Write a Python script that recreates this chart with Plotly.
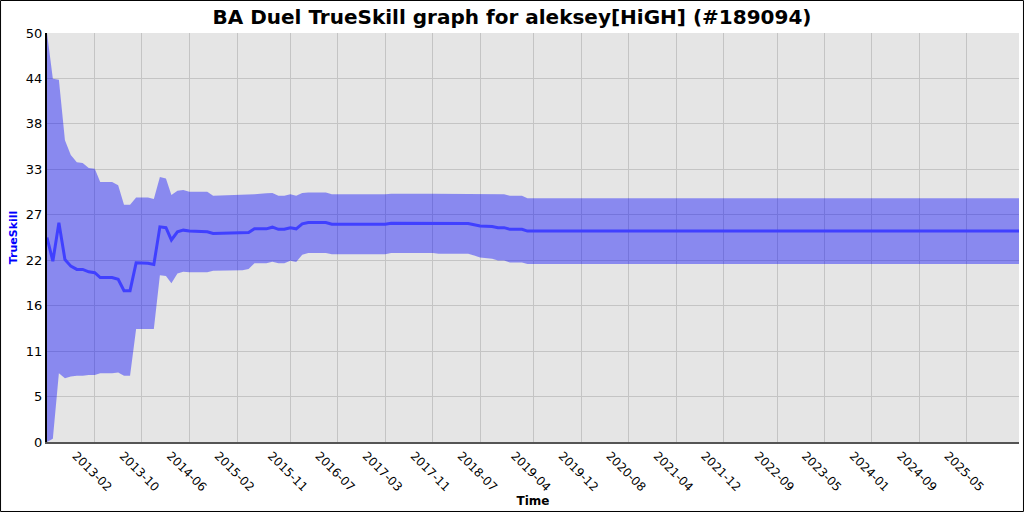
import plotly.graph_objects as go

# ---- data ----
dates = [
    "2012-06-01", "2012-07-01", "2012-08-01", "2012-09-01", "2012-10-01", "2012-11-01",
    "2012-12-01", "2013-01-01", "2013-02-01", "2013-03-01", "2013-05-01", "2013-06-01",
    "2013-07-01", "2013-08-01", "2013-09-01", "2013-11-01", "2013-12-01", "2014-01-01",
    "2014-02-01", "2014-03-01", "2014-04-01", "2014-05-01", "2014-06-01", "2014-09-01",
    "2014-10-01", "2015-03-01", "2015-04-01", "2015-05-01", "2015-07-01", "2015-08-01",
    "2015-09-01", "2015-10-01", "2015-11-01", "2015-12-01", "2016-01-01", "2016-02-01",
    "2016-05-01", "2016-06-01", "2017-03-01", "2017-04-01", "2017-11-01", "2017-12-01",
    "2018-05-01", "2018-06-01", "2018-07-01", "2018-09-01", "2018-10-01", "2018-11-01",
    "2018-12-01", "2019-02-01", "2019-03-01", "2026-01-24",
]
mean_skill = [
    25.0, 22.1, 26.8, 22.3, 21.5, 21.1,
    21.1, 20.8, 20.7, 20.1, 20.1, 19.9,
    18.5, 18.5, 21.9, 21.85, 21.7, 26.3,
    26.2, 24.7, 25.7, 25.9, 25.8, 25.7,
    25.5, 25.55, 25.6, 26.06, 26.06, 26.26,
    26.0, 26.0, 26.2, 26.06, 26.67, 26.83,
    26.83, 26.63, 26.63, 26.75, 26.75, 26.7,
    26.7, 26.55, 26.4, 26.35, 26.2, 26.2,
    26.0, 26.0, 25.78, 25.78,
]
upper_skill = [
    50.0, 44.4, 44.3, 36.9, 35.1, 34.2,
    34.1, 33.5, 33.4, 31.8, 31.8, 31.4,
    29.0, 29.0, 29.9, 29.9, 29.7, 32.4,
    32.2, 30.2, 30.7, 30.8, 30.6, 30.6,
    30.1, 30.2, 30.2, 30.3, 30.4, 30.45,
    30.1, 30.1, 30.3, 30.1, 30.45, 30.5,
    30.5, 30.3, 30.3, 30.35, 30.35, 30.35,
    30.35, 30.35, 30.35, 30.3, 30.3, 30.3,
    30.1, 30.1, 29.8, 29.8,
]
lower_skill = [
    0.0, 0.4, 8.4, 7.8, 8.0, 8.1,
    8.1, 8.2, 8.2, 8.4, 8.4, 8.5,
    8.1, 8.1, 13.8, 13.8, 13.8, 20.4,
    20.3, 19.4, 20.6, 20.8, 20.75, 20.75,
    20.95, 21.0, 21.15, 21.85, 21.85, 22.05,
    21.85, 21.85, 22.15, 22.0, 22.9, 23.1,
    23.1, 22.95, 22.95, 23.1, 23.1, 23.0,
    23.0, 22.8, 22.55, 22.4, 22.2, 22.2,
    21.95, 21.95, 21.75, 21.75,
]

x_tick_labels = [
    "2013-02", "2013-10", "2014-06", "2015-02", "2015-11", "2016-07", "2017-03",
    "2017-11", "2018-07", "2019-04", "2019-12", "2020-08", "2021-04", "2021-12",
    "2022-09", "2023-05", "2024-01", "2024-09", "2025-05",
]
y_tick_labels = ["0", "5", "11", "16", "22", "27", "33", "38", "44", "50"]
y_max = 50

# ---- figure ----
fig = go.Figure()
fig.add_trace(go.Scatter(
    x=dates, y=lower_skill, mode="lines", line=dict(width=0, color="rgba(0,0,255,0)"),
    hoverinfo="skip", showlegend=False,
))
fig.add_trace(go.Scatter(
    x=dates, y=upper_skill, mode="lines", line=dict(width=0, color="rgba(0,0,255,0)"),
    fill="tonexty", fillcolor="rgba(0,0,255,0.40)", hoverinfo="skip", showlegend=False,
))
fig.add_trace(go.Scatter(
    x=dates, y=mean_skill, mode="lines", line=dict(width=3, color="rgb(64,64,255)"),
    showlegend=False,
))

font_family = "DejaVu Sans"
n = len(y_tick_labels) - 1
fig.update_layout(
    width=1024, height=512,
    paper_bgcolor="white", plot_bgcolor="#e5e5e5",
    margin=dict(l=47, r=5, t=33, b=70),
    font=dict(family=font_family, size=12, color="black"),
    title=dict(
        text="<b>BA Duel TrueSkill graph for aleksey[HiGH] (#189094)</b>",
        x=0.5, xanchor="center", y=0.967, yanchor="middle",
        font=dict(family=font_family, size=20, color="black"),
    ),
    xaxis=dict(
        type="date", range=[dates[0], dates[-1]],
        tickvals=[t + "-01" for t in x_tick_labels], ticktext=x_tick_labels,
        tickangle=45, ticks="", showgrid=True, gridcolor="#c4c4c4", gridwidth=1,
        showline=True, linecolor="#555555", linewidth=2, zeroline=False,
        tickfont=dict(size=12, color="black"), ticklabelshift=-19,
        title=dict(text="<b>Time</b>", font=dict(size=12, color="black"), standoff=1),
    ),
    yaxis=dict(
        range=[0, y_max],
        tickvals=[i * y_max / n for i in range(n + 1)], ticktext=y_tick_labels,
        ticks="", showgrid=True, gridcolor="#c4c4c4", gridwidth=1,
        showline=True, linecolor="black", linewidth=2, zeroline=False,
        tickfont=dict(size=13, color="black"),
        title=dict(text="<b>TrueSkill</b>", font=dict(size=11, color="blue"), standoff=6),
    ),
    shapes=[dict(
        type="rect", xref="paper", yref="paper",
        x0=-0.0478, x1=1.0046, y0=-0.1699, y1=1.0795,
        line=dict(color="black", width=1), fillcolor="rgba(0,0,0,0)", layer="above",
    )],
)

fig.write_html(
    "out.html",
    config={"displayModeBar": False},
    post_script="document.body.style.margin='0';document.body.style.overflow='hidden';",
)
